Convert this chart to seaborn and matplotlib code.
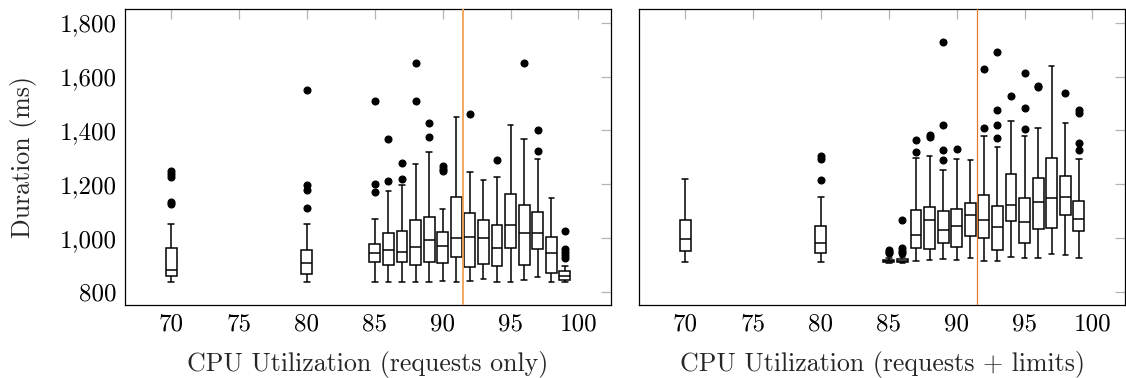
import numpy as np
import pandas as pd
import matplotlib
matplotlib.use("Agg")
import matplotlib.pyplot as plt
import seaborn as sns
from matplotlib.ticker import FuncFormatter

# ---------------- data ----------------
positions = [70, 80, 85, 86, 87, 88, 89, 90, 91, 92, 93, 94, 95, 96, 97, 98, 99]

# left panel: requests only
L_lo  = [836, 837, 836, 836, 838, 837, 838, 841, 838, 840, 850, 836, 836, 845, 855, 836, 836]
L_q1  = [861, 866, 912, 899, 910, 902, 913, 908, 929, 894, 903, 895, 965, 900, 961, 869, 846]
L_med = [882, 909, 944, 958, 947, 968, 992, 970, 1002, 1003, 999, 965, 1049, 1020, 1018, 944, 859]
L_q3  = [963, 958, 980, 1021, 1025, 1069, 1078, 1023, 1152, 1092, 1067, 1050, 1163, 1123, 1096, 1005, 877]
L_hi  = [1053, 1051, 1072, 1177, 1196, 1274, 1320, 1108, 1449, 1246, 1217, 1227, 1421, 1369, 1295, 1150, 895]
L_out = [
    [1250, 1240, 1228, 1136, 1127],
    [1550, 1196, 1180, 1114],
    [1510, 1201, 1170],
    [1367, 1213],
    [1278, 1220],
    [1649, 1510],
    [1428, 1374],
    [1268, 1258, 1248],
    [],
    [1461],
    [],
    [1291],
    [],
    [1650],
    [1401, 1324],
    [],
    [1027, 960, 948, 938, 926],
]

# right panel: requests + limits
R_lo  = [910, 913, 907, 907, 915, 920, 922, 919, 926, 915, 915, 930, 925, 927, 940, 937, 927]
R_q1  = [952, 944, 910, 911, 964, 960, 982, 967, 1007, 999, 956, 1064, 981, 1035, 1039, 1085, 1028]
R_med = [997, 982, 914, 916, 1012, 1067, 1029, 1045, 1087, 1066, 1040, 1124, 1060, 1134, 1149, 1153, 1070]
R_q3  = [1066, 1046, 920, 922, 1103, 1117, 1102, 1109, 1129, 1160, 1119, 1237, 1148, 1224, 1296, 1230, 1137]
R_hi  = [1221, 1154, 928, 930, 1299, 1306, 1254, 1294, 1290, 1380, 1340, 1434, 1380, 1409, 1639, 1428, 1294]
R_out = [
    [],
    [1305, 1295, 1216],
    [956, 950, 945],
    [1067, 962, 953, 944],
    [1366, 1320],
    [1385, 1377],
    [1728, 1419, 1327, 1290],
    [1331],
    [],
    [1627, 1410],
    [1690, 1477, 1421, 1373],
    [1528],
    [1614, 1482, 1405],
    [1565, 1560],
    [],
    [1538],
    [1476, 1466, 1355, 1326],
]

threshold = 91.5
x_ticks = [70, 75, 80, 85, 90, 95, 100]
y_ticks = [800, 1000, 1200, 1400, 1600, 1800]
xlabel_left = "CPU Utilization (requests only)"
xlabel_right = "CPU Utilization (requests + limits)"
ylabel = "Duration (ms)"


def expand(pos, lo, q1, med, q3, hi, outl, m=50):
    """Rebuild samples whose box statistics equal the read five-number summary."""
    rows = []
    for p, a, b, c, d, e, o in zip(pos, lo, q1, med, q3, hi, outl):
        vals = [a] + [b] * m + [c] * m + [d] * m + [e] + list(o)
        rows += [(p, v) for v in vals]
    return pd.DataFrame(rows, columns=["util", "duration"])


dfL = expand(positions, L_lo, L_q1, L_med, L_q3, L_hi, L_out)
dfR = expand(positions, R_lo, R_q1, R_med, R_q3, R_hi, R_out)

sns.set_theme(style="white")
plt.rcParams["font.family"] = ["cmr10", "DejaVu Serif"]
plt.rcParams["mathtext.fontset"] = "cm"
plt.rcParams["axes.formatter.use_mathtext"] = True
plt.rcParams["axes.unicode_minus"] = False

FS = 18
FSL = 18.6
W, H = 1126, 378
fig = plt.figure(figsize=(W / 100, H / 100), dpi=100)
axL = fig.add_axes([125 / W, 73 / H, 486 / W, 296 / H])
axR = fig.add_axes([639 / W, 73 / H, 486 / W, 296 / H])

flier = dict(marker="o", markerfacecolor="black", markeredgecolor="black", markersize=4.8)

for ax, df, vcol, vlw in [(axL, dfL, "#f5a04f", 1.3), (axR, dfR, "#e07a2a", 0.9)]:
    sns.boxplot(data=df, x="util", y="duration", native_scale=True, width=0.8,
                color="white", linecolor="black", linewidth=1.1, saturation=1,
                flierprops=flier, whis=1.5, ax=ax)
    ax.axvline(threshold, color=vcol, lw=vlw, zorder=5)
    ax.set_xlim(66.6, 102.4)
    ax.set_ylim(752, 1851)
    ax.set_xticks(x_ticks)
    ax.set_xticklabels([str(t) for t in x_ticks])
    ax.set_yticks(y_ticks)
    ax.yaxis.set_major_formatter(FuncFormatter(lambda v, p: f"{int(v):,}"))
    ax.tick_params(direction="in", length=7, width=0.9, color="#b4b4b4",
                   top=True, right=True, labelsize=FS, pad=6, labelcolor="black")
    for s in ax.spines.values():
        s.set_color("black")
        s.set_linewidth(0.9)
    ax.set_ylabel("")

axL.set_xlabel(xlabel_left, fontsize=FSL, labelpad=11)
axR.set_xlabel(xlabel_right, fontsize=FSL, labelpad=11)
axL.set_ylabel(ylabel, fontsize=FSL, labelpad=16)
axR.tick_params(labelleft=False)

fig.savefig("out.png", dpi=100)
